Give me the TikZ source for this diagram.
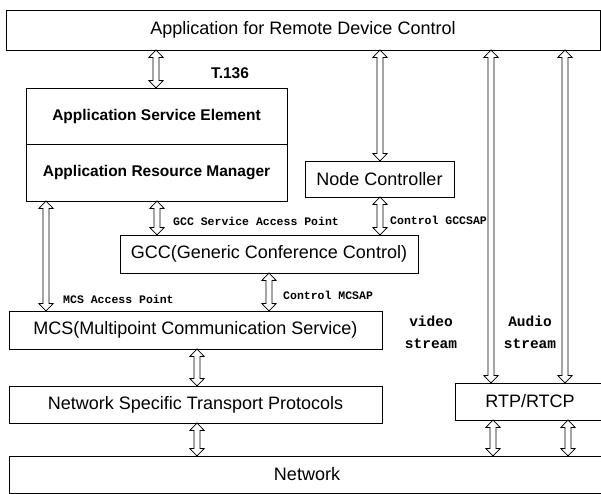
\documentclass[tikz,border=0pt]{standalone}
\usepackage{fontspec}
\setmainfont{Liberation Sans}
\setmonofont{Liberation Mono}
\usetikzlibrary{calc}
\tikzset{
  box/.style={draw, line width=0.8pt, inner sep=0pt, outer sep=0pt, anchor=north west,
    font=\fontsize{18}{20}\selectfont},
  bbox/.style={box, font=\bfseries\fontsize{15.5}{17}\selectfont},
  lbl/.style={inner sep=0pt, anchor=west, font=\ttfamily\bfseries\fontsize{11.5}{12}\selectfont},
  slbl/.style={inner sep=0pt, align=center, font=\ttfamily\bfseries\fontsize{14.5}{22}\selectfont},
  harrow/.style={draw, fill=white, line width=0.75pt,
    to path={let \p1=(\tikztostart), \p2=(\tikztotarget) in
      (\x1,\y1) -- (\x1-7.2pt,\y1-7.5pt) -- (\x1-3.1pt,\y1-7.5pt) -- (\x1-3.1pt,\y2+7.5pt)
      -- (\x1-7.2pt,\y2+7.5pt) -- (\x1,\y2) -- (\x1+7.2pt,\y2+7.5pt) -- (\x1+3.1pt,\y2+7.5pt)
      -- (\x1+3.1pt,\y1-7.5pt) -- (\x1+7.2pt,\y1-7.5pt) -- cycle}}
}
\begin{document}
\begin{tikzpicture}[x=1pt,y=-1pt]
\useasboundingbox[fill=white] (0,0) rectangle (601,494);
% boxes
\node[box, minimum width=594pt, minimum height=40pt] (top) at (6,10) {Application for Remote Device Control};
\node[bbox, minimum width=261pt, minimum height=56pt] (ase) at (26,88) {Application Service Element};
\node[bbox, minimum width=261pt, minimum height=57pt] (arm) at (26,144) {Application Resource Manager};
\node[box, minimum width=149pt, minimum height=36pt] (nc) at (305,161) {Node Controller};
\node[box, minimum width=298pt, minimum height=38pt] (gcc) at (120,235) {GCC(Generic Conference Control)};
\node[box, minimum width=373pt, minimum height=38pt] (mcs) at (9,311) {MCS(Multipoint Communication Service)};
\node[box, minimum width=373pt, minimum height=37pt] (nstp) at (9,386) {Network Specific Transport Protocols};
\node[box, minimum width=150pt, minimum height=37pt] (rtp) at (455,383) {RTP/RTCP};
\node[box, minimum width=596pt, minimum height=37pt] (net) at (9,456) {Network};
% labels
\node[inner sep=0pt, font=\bfseries\fontsize{15.5}{17}\selectfont] (t136) at (230,73) {T.136};
\node[lbl] (l1) at (173,221) {GCC Service Access Point};
\node[lbl] (l2) at (390,220) {Control GCCSAP};
\node[lbl] (l3) at (63,299) {MCS Access Point};
\node[lbl] (l4) at (283,295) {Control MCSAP};
\node[slbl] (vs) at (431,332) {video\\stream};
\node[slbl] (as) at (530,332) {Audio\\stream};
% arrows
\draw[harrow] (156,0 |- top.south) to (156,0 |- ase.north);
\draw[harrow] (380,0 |- top.south) to (380,0 |- nc.north);
\draw[harrow] (491,0 |- top.south) to (491,0 |- rtp.north);
\draw[harrow] (565,0 |- top.south) to (565,0 |- rtp.north);
\draw[harrow] (157,0 |- arm.south) to (157,0 |- gcc.north);
\draw[harrow] (380,0 |- nc.south) to (380,0 |- gcc.north);
\draw[harrow] (46,0 |- arm.south) to (46,0 |- mcs.north);
\draw[harrow] (269,0 |- gcc.south) to (269,0 |- mcs.north);
\draw[harrow] (197,0 |- mcs.south) to (197,0 |- nstp.north);
\draw[harrow] (197,0 |- nstp.south) to (197,0 |- net.north);
\draw[harrow] (493,0 |- rtp.south) to (493,0 |- net.north);
\draw[harrow] (568,0 |- rtp.south) to (568,0 |- net.north);
\end{tikzpicture}
\end{document}
